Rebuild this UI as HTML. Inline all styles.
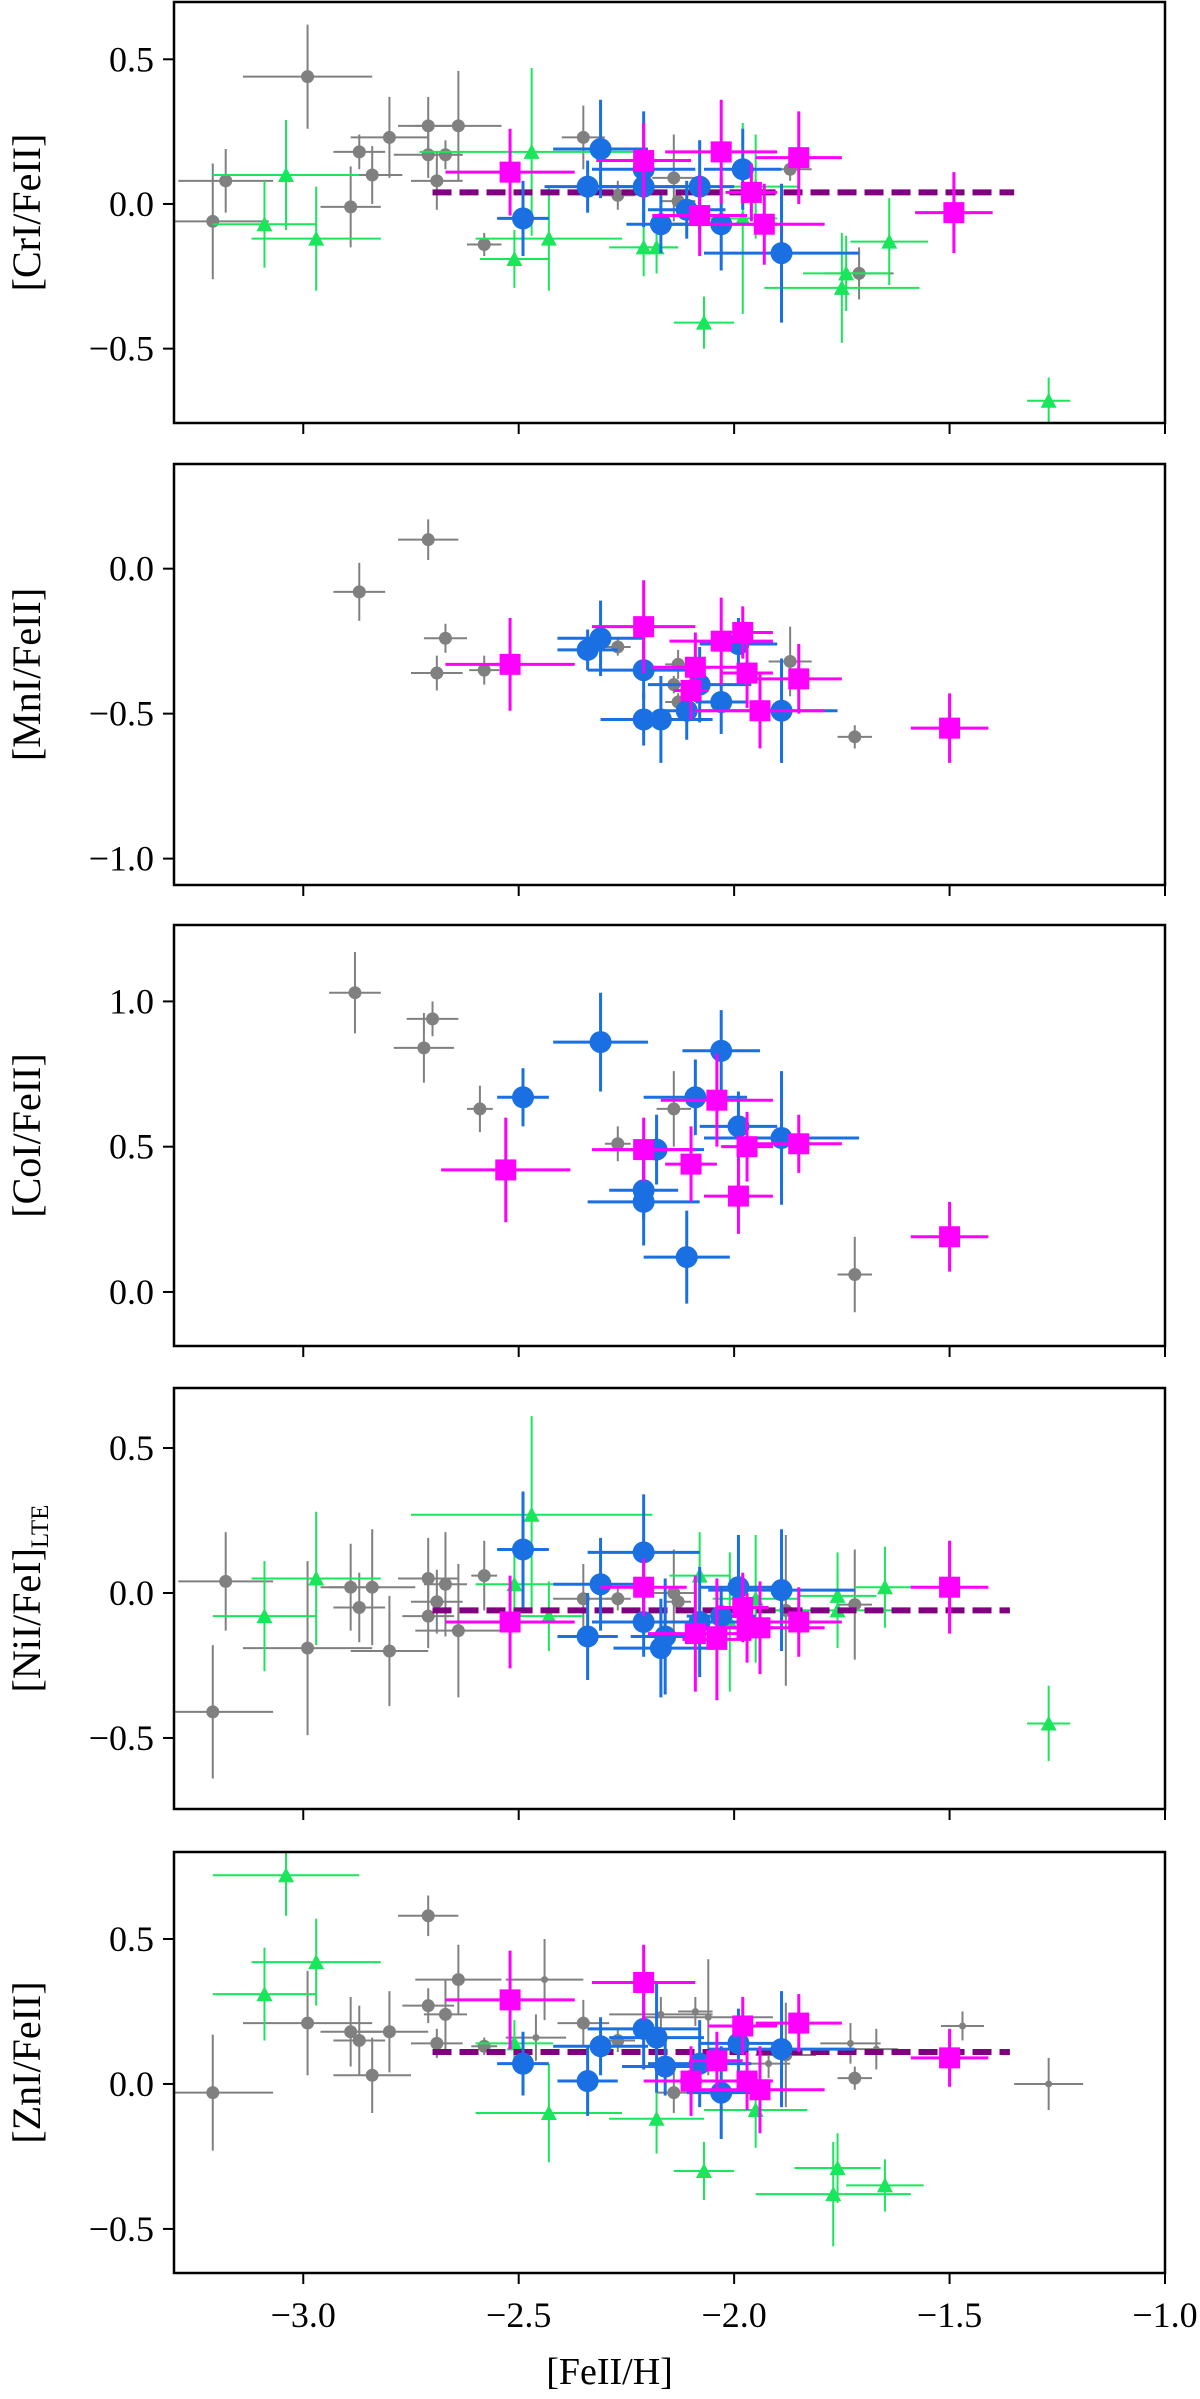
<!DOCTYPE html>
<html><head><meta charset="utf-8"><style>
html,body{margin:0;padding:0;background:#fff;}
svg text{font-family:"Liberation Serif","DejaVu Serif",serif;fill:#000;}
</style></head><body>
<svg id="fig" width="1200" height="2394" viewBox="0 0 1200 2394" xmlns="http://www.w3.org/2000/svg"></svg>
<script>
// ---- data: [x, y, xerr, yerr] ----
const xTicks = [-3.0, -2.5, -2.0, -1.5, -1.0];
const xTickLabels = ["−3.0", "−2.5", "−2.0", "−1.5", "−1.0"];

const crGray = [[-2.99,0.44,0.15,0.18],[-3.18,0.08,0.11,0.11],[-3.21,-0.06,0.13,0.2],[-2.87,0.18,0.06,0.06],[-2.84,0.10,0.07,0.1],[-2.89,-0.01,0.07,0.14],[-2.80,0.23,0.09,0.14],[-2.71,0.27,0.07,0.1],[-2.71,0.17,0.08,0.08],[-2.67,0.17,0.04,0.05],[-2.64,0.27,0.1,0.19],[-2.69,0.08,0.06,0.1],[-2.58,-0.14,0.04,0.04],[-2.35,0.23,0.05,0.11],[-2.27,0.03,0.04,0.05],[-2.14,0.09,0.05,0.15],[-2.13,0.01,0.04,0.04],[-1.87,0.12,0.05,0.04],[-1.71,-0.24,0.08,0.09]];
const crGreen = [[-3.04,0.10,0.17,0.19],[-3.09,-0.07,0.12,0.15],[-2.97,-0.12,0.15,0.18],[-2.47,0.18,0.26,0.29],[-2.51,-0.19,0.08,0.1],[-2.43,-0.12,0.17,0.18],[-2.21,-0.15,0.08,0.1],[-2.18,-0.15,0.05,0.09],[-2.07,-0.41,0.07,0.09],[-1.98,-0.05,0.08,0.33],[-1.95,0.06,0.1,0.18],[-1.74,-0.24,0.1,0.13],[-1.75,-0.29,0.18,0.19],[-1.64,-0.13,0.09,0.15],[-1.27,-0.68,0.05,0.08]];
const crBlue = [[-2.31,0.19,0.11,0.17],[-2.49,-0.05,0.06,0.13],[-2.34,0.06,0.1,0.09],[-2.21,0.12,0.12,0.2],[-2.21,0.06,0.15,0.12],[-2.08,0.06,0.08,0.16],[-2.17,-0.07,0.08,0.1],[-2.11,-0.02,0.09,0.1],[-2.03,-0.07,0.13,0.16],[-1.98,0.12,0.09,0.14],[-1.89,-0.17,0.18,0.24]];
const crMag = [[-2.52,0.11,0.15,0.15],[-2.21,0.15,0.11,0.13],[-2.03,0.18,0.13,0.18],[-1.85,0.16,0.1,0.16],[-1.96,0.04,0.06,0.1],[-2.08,-0.04,0.11,0.14],[-1.93,-0.07,0.14,0.14],[-1.49,-0.03,0.09,0.14]];
const crMean = [-2.70, -1.35, 0.04];

const mnGray = [[-2.71,0.10,0.07,0.07],[-2.87,-0.08,0.06,0.1],[-2.67,-0.24,0.05,0.05],[-2.69,-0.36,0.06,0.06],[-2.58,-0.35,0.035,0.05],[-2.27,-0.27,0.03,0.03],[-2.13,-0.33,0.03,0.05],[-2.14,-0.40,0.03,0.03],[-2.13,-0.46,0.03,0.03],[-1.87,-0.32,0.05,0.12],[-1.72,-0.58,0.04,0.04]];
const mnBlue = [[-2.31,-0.24,0.1,0.13],[-2.34,-0.28,0.07,0.07],[-2.21,-0.35,0.13,0.1],[-2.21,-0.52,0.1,0.09],[-2.17,-0.52,0.12,0.15],[-2.11,-0.49,0.06,0.1],[-2.08,-0.40,0.12,0.13],[-2.03,-0.46,0.06,0.11],[-1.99,-0.26,0.09,0.09],[-1.89,-0.49,0.13,0.18]];
const mnMag = [[-2.52,-0.33,0.15,0.16],[-2.21,-0.20,0.12,0.16],[-2.03,-0.25,0.12,0.15],[-1.98,-0.22,0.07,0.09],[-2.09,-0.34,0.1,0.12],[-1.97,-0.36,0.06,0.12],[-1.85,-0.38,0.1,0.12],[-1.94,-0.49,0.15,0.13],[-2.10,-0.42,0.04,0.1],[-1.50,-0.55,0.09,0.12]];

const coGray = [[-2.88,1.03,0.06,0.14],[-2.70,0.94,0.06,0.06],[-2.72,0.84,0.07,0.12],[-2.59,0.63,0.03,0.08],[-2.27,0.51,0.03,0.06],[-2.14,0.63,0.04,0.13],[-1.72,0.06,0.04,0.13]];
const coBlue = [[-2.31,0.86,0.11,0.17],[-2.49,0.67,0.06,0.1],[-2.03,0.83,0.09,0.14],[-2.09,0.67,0.12,0.13],[-1.99,0.57,0.09,0.12],[-1.89,0.53,0.18,0.23],[-2.18,0.49,0.11,0.12],[-2.21,0.35,0.08,0.1],[-2.21,0.31,0.13,0.15],[-2.11,0.12,0.1,0.16]];
const coMag = [[-2.53,0.42,0.15,0.18],[-2.21,0.49,0.12,0.11],[-2.04,0.66,0.13,0.16],[-1.97,0.50,0.06,0.12],[-2.10,0.44,0.06,0.13],[-1.99,0.33,0.08,0.13],[-1.85,0.51,0.1,0.1],[-1.50,0.19,0.09,0.12]];

const niGray = [[-3.18,0.04,0.11,0.17],[-3.21,-0.41,0.14,0.23],[-2.99,-0.19,0.15,0.3],[-2.89,0.02,0.07,0.15],[-2.84,0.02,0.1,0.2],[-2.87,-0.05,0.06,0.12],[-2.80,-0.20,0.09,0.19],[-2.71,0.05,0.07,0.14],[-2.67,0.03,0.05,0.18],[-2.69,-0.03,0.06,0.11],[-2.71,-0.08,0.06,0.11],[-2.64,-0.13,0.1,0.23],[-2.58,0.06,0.03,0.12],[-2.35,-0.02,0.07,0.12],[-2.27,-0.02,0.03,0.04],[-2.14,0.00,0.05,0.15],[-2.13,-0.03,0.03,0.03],[-1.88,-0.06,0.07,0.26],[-1.72,-0.04,0.04,0.19]];
const niGreen = [[-2.97,0.05,0.15,0.23],[-3.09,-0.08,0.12,0.19],[-2.47,0.27,0.28,0.34],[-2.51,0.03,0.09,0.1],[-2.43,-0.08,0.08,0.12],[-2.08,0.06,0.07,0.15],[-1.95,-0.02,0.1,0.22],[-2.01,-0.10,0.09,0.24],[-1.76,-0.01,0.09,0.15],[-1.76,-0.06,0.15,0.13],[-1.65,0.02,0.07,0.14],[-1.27,-0.45,0.05,0.13]];
const niBlue = [[-2.49,0.15,0.06,0.2],[-2.21,0.14,0.13,0.2],[-2.31,0.03,0.11,0.16],[-2.34,-0.15,0.07,0.15],[-2.21,-0.10,0.12,0.12],[-2.17,-0.19,0.11,0.17],[-2.16,-0.15,0.08,0.2],[-2.08,-0.10,0.12,0.19],[-2.03,-0.08,0.08,0.1],[-1.99,0.02,0.09,0.18],[-1.89,0.01,0.17,0.21]];
const niMag = [[-2.52,-0.10,0.15,0.16],[-2.21,0.02,0.1,0.1],[-2.09,-0.14,0.11,0.2],[-2.04,-0.16,0.08,0.21],[-1.98,-0.05,0.06,0.12],[-1.97,-0.12,0.06,0.12],[-1.94,-0.12,0.15,0.16],[-1.85,-0.10,0.1,0.12],[-1.50,0.02,0.09,0.16]];
const niMean = [-2.70, -1.36, -0.06];

const znGray = [[-3.21,-0.03,0.14,0.2],[-2.99,0.21,0.15,0.18],[-2.89,0.18,0.07,0.12],[-2.87,0.15,0.06,0.12],[-2.80,0.18,0.09,0.14],[-2.84,0.03,0.09,0.13],[-2.71,0.58,0.07,0.07],[-2.64,0.36,0.1,0.12],[-2.71,0.27,0.06,0.06],[-2.67,0.24,0.05,0.12],[-2.69,0.14,0.06,0.05],[-2.58,0.13,0.03,0.03],[-2.35,0.21,0.06,0.08],[-2.27,0.15,0.04,0.04],[-2.14,-0.03,0.04,0.07],[-1.88,0.10,0.07,0.18],[-1.72,0.02,0.04,0.04]];
const znGraySmall = [[-2.44,0.36,0.09,0.14],[-2.46,0.16,0.07,0.08],[-2.17,0.24,0.12,0.06],[-2.09,0.25,0.04,0.05],[-2.06,0.23,0.15,0.2],[-1.92,0.07,0.05,0.05],[-1.73,0.14,0.07,0.07],[-1.67,0.12,0.05,0.07],[-1.47,0.20,0.05,0.05],[-1.27,0.00,0.08,0.09]];
const znGreen = [[-3.04,0.72,0.17,0.14],[-2.97,0.42,0.15,0.15],[-3.09,0.31,0.12,0.16],[-2.51,0.14,0.09,0.08],[-2.43,-0.10,0.17,0.17],[-2.18,-0.12,0.11,0.12],[-1.95,-0.09,0.12,0.13],[-2.07,-0.30,0.07,0.1],[-1.76,-0.29,0.1,0.12],[-1.77,-0.38,0.18,0.18],[-1.65,-0.35,0.09,0.09]];
const znBlue = [[-2.49,0.07,0.06,0.11],[-2.34,0.01,0.07,0.12],[-2.31,0.13,0.11,0.1],[-2.21,0.19,0.13,0.14],[-2.18,0.16,0.11,0.19],[-2.16,0.06,0.1,0.1],[-2.08,0.07,0.12,0.15],[-2.10,0.01,0.06,0.1],[-2.03,-0.03,0.08,0.16],[-1.99,0.14,0.09,0.12],[-1.89,0.12,0.17,0.2]];
const znMag = [[-2.52,0.29,0.15,0.17],[-2.21,0.35,0.12,0.13],[-1.98,0.20,0.08,0.1],[-1.85,0.21,0.1,0.1],[-2.10,0.01,0.11,0.12],[-1.97,0.01,0.06,0.1],[-1.94,-0.02,0.15,0.15],[-2.04,0.08,0.06,0.1],[-1.50,0.09,0.09,0.1]];
const znMean = [-2.70, -1.36, 0.11];

const yTicks1 = [-0.5, 0.0, 0.5], yTickLabels1 = ["−0.5", "0.0", "0.5"];
const yTicks2 = [-1.0, -0.5, 0.0], yTickLabels2 = ["−1.0", "−0.5", "0.0"];
const yTicks3 = [0.0, 0.5, 1.0], yTickLabels3 = ["0.0", "0.5", "1.0"];
const yTicks4 = [-0.5, 0.0, 0.5], yTickLabels4 = ["−0.5", "0.0", "0.5"];
const yTicks5 = [-0.5, 0.0, 0.5], yTickLabels5 = ["−0.5", "0.0", "0.5"];

// ---- layout ----
const NS = "http://www.w3.org/2000/svg";
const svg = document.getElementById("fig");
const L = 174, R = 1165, XMIN = -3.30, XMAX = -1.0;
const xScale = v => L + (v - XMIN) / (XMAX - XMIN) * (R - L);
const COL = {gray:"#808080", green:"#19e65a", blue:"#1a6fe3", mag:"#ff00ff", mean:"#800080"};

function mk(tag, attrs, parent) {
  const e = document.createElementNS(NS, tag);
  for (const k in attrs) e.setAttribute(k, attrs[k]);
  (parent || svg).appendChild(e);
  return e;
}

const panels = [
  {name:"cr", top:2, ymin:-0.757, ymax:0.698, ticks:yTicks1, labels:yTickLabels1, label:"[CrI/FeII]",
   gray:crGray, green:crGreen, blue:crBlue, mag:crMag, mean:crMean},
  {name:"mn", top:464, ymin:-1.091, ymax:0.361, ticks:yTicks2, labels:yTickLabels2, label:"[MnI/FeII]",
   gray:mnGray, blue:mnBlue, mag:mnMag},
  {name:"co", top:925, ymin:-0.186, ymax:1.263, ticks:yTicks3, labels:yTickLabels3, label:"[CoI/FeII]",
   gray:coGray, blue:coBlue, mag:coMag},
  {name:"ni", top:1388, ymin:-0.745, ymax:0.707, ticks:yTicks4, labels:yTickLabels4, label:"NI",
   gray:niGray, green:niGreen, blue:niBlue, mag:niMag, mean:niMean},
  {name:"zn", top:1852, ymin:-0.652, ymax:0.80, ticks:yTicks5, labels:yTickLabels5, label:"[ZnI/FeII]",
   gray:znGray, graySmall:znGraySmall, green:znGreen, blue:znBlue, mag:znMag, mean:znMean}
];
const H = 421;

panels.forEach((p, pi) => {
  const g = mk("g", {});
  
  
  const yS = v => p.top + (p.ymax - v) / (p.ymax - p.ymin) * H;
  const cid = "clip" + pi;
  const cp = mk("clipPath", {id: cid}, g);
  mk("rect", {x:L, y:p.top, width:R-L, height:H}, cp);
  const plot = mk("g", {"clip-path": "url(#" + cid + ")"}, g);

  function errs(list, color, lw, nm) {
    list.forEach(d => {
      const cx = xScale(d[0]), cy = yS(d[1]);
      const h = mk("line", {x1:xScale(d[0]-d[2]), x2:xScale(d[0]+d[2]), y1:cy, y2:cy, stroke:color, "stroke-width":lw}, plot);
      
      
      const v = mk("line", {x1:cx, x2:cx, y1:yS(d[1]+d[3]), y2:yS(d[1]-d[3]), stroke:color, "stroke-width":lw}, plot);
      
      
    });
  }
  function circles(list, color, r, nm) {
    errs(list, color, r > 8 ? 3 : 2, nm);
    list.forEach(d => {
      const c = mk("circle", {cx:xScale(d[0]), cy:yS(d[1]), r:r, fill:color}, plot);
      
      
    });
  }
  function triangles(list, nm) {
    errs(list, COL.green, 2, nm);
    list.forEach(d => {
      const cx = xScale(d[0]), cy = yS(d[1]);
      const t = mk("polygon", {points:`${cx},${cy-8} ${cx-8},${cy+7} ${cx+8},${cy+7}`, fill:COL.green}, plot);
      
      
    });
  }
  function squares(list, nm) {
    errs(list, COL.mag, 3, nm);
    list.forEach(d => {
      const s = mk("rect", {x:xScale(d[0])-10.5, y:yS(d[1])-10.5, width:21, height:21, fill:COL.mag}, plot);
      
      
    });
  }

  if (p.gray) circles(p.gray, COL.gray, 6.5, p.name + '-gray');
  if (p.graySmall) circles(p.graySmall, COL.gray, 3.5, p.name + '-gray-small');
  if (p.green) triangles(p.green, p.name + '-green');
  if (p.mean) {
    const ln = mk("line", {x1:xScale(p.mean[0]), x2:xScale(p.mean[1]), y1:yS(p.mean[2]), y2:yS(p.mean[2]),
      stroke:COL.mean, "stroke-width":6, "stroke-dasharray":"19 8"}, plot);
    
    
  }
  if (p.blue) circles(p.blue, COL.blue, 11, p.name + '-blue');
  if (p.mag) squares(p.mag, p.name + '-magenta');

  const fr = mk("rect", {x:L, y:p.top, width:R-L, height:H, fill:"none", stroke:"#000", "stroke-width":2.5}, g);
  
  

  xTicks.forEach((v, i) => {
    const x = xScale(v), yb = p.top + H;
    const t = mk("line", {x1:x, x2:x, y1:yb, y2:yb+11, stroke:"#000", "stroke-width":2}, g);
    
    
    if (pi === panels.length - 1) {
      const tx = mk("text", {x:x, y:yb+54, "font-size":36, "text-anchor":"middle"}, g);
      tx.textContent = xTickLabels[i];
      
      
    }
  });
  p.ticks.forEach((v, i) => {
    const y = yS(v);
    const t = mk("line", {x1:L-11, x2:L, y1:y, y2:y, stroke:"#000", "stroke-width":2}, g);
    
    
    const tx = mk("text", {x:L-20, y:y+12, "font-size":36, "text-anchor":"end"}, g);
    tx.textContent = p.labels[i];
    
    
  });
  const cy = p.top + H/2;
  const yl = mk("text", {x:0, y:0, "font-size":40, "text-anchor":"middle", transform:`translate(40,${cy}) rotate(-90)`}, g);
  if (p.label === "NI") {
    yl.textContent = "[NiI/FeI]";
    const sub = mk("tspan", {"font-size":25, dy:8}, yl);
    sub.textContent = "LTE";
  } else {
    yl.textContent = p.label;
  }
  
  
});

const xl = mk("text", {x:(L+R)/2 - 60, y:2384, "font-size":38, "text-anchor":"middle"});
xl.textContent = "[FeII/H]";


</script>
</body></html>
